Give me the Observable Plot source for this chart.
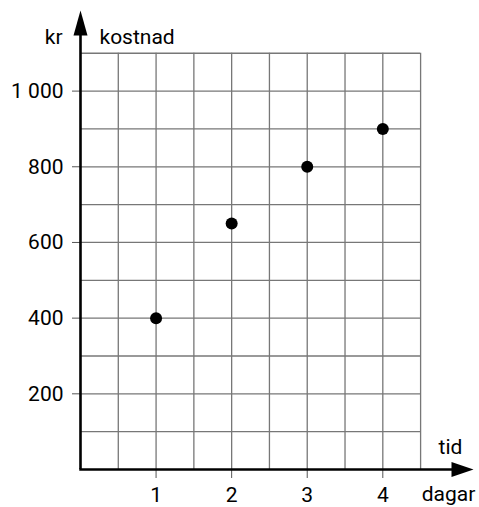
<!DOCTYPE html>
<html>
<head>
<meta charset="utf-8">
<script src="https://cdn.jsdelivr.net/npm/d3@7"></script>
<script src="https://cdn.jsdelivr.net/npm/@observablehq/plot@0.6"></script>
<style>
  html, body { margin: 0; padding: 0; background: #fff; }
</style>
</head>
<body>
<div id="chart"></div>
<script>
// Data
const days = [1, 2, 3, 4];
const costs = [400, 650, 800, 900];
const xTicks = [1, 2, 3, 4];
const yTicks = [200, 400, 600, 800, 1000];
const xGrid = [0.5, 1, 1.5, 2, 2.5, 3, 3.5, 4, 4.5];
const yGrid = [100, 200, 300, 400, 500, 600, 700, 800, 900, 1000, 1100];
const xLabel = "tid";
const xUnit = "dagar";
const yLabel = "kostnad";
const yUnit = "kr";

const xMax = 5.2, yMax = 1213;
const gridXMax = 4.5, gridYMax = 1100;

const points = days.map((d, i) => ({day: d, cost: costs[i]}));

const upArrow = {draw(ctx) { ctx.moveTo(0, 0); ctx.lineTo(7, 25); ctx.lineTo(-7, 25); ctx.closePath(); }};
const rightArrow = {draw(ctx) { ctx.moveTo(0, 0); ctx.lineTo(-22, -7.5); ctx.lineTo(-22, 7.5); ctx.closePath(); }};

const fmt = d => d >= 1000 ? d3.format(",")(d).replace(/,/g, " ") : String(d);

const chart = Plot.plot({
  width: 479,
  height: 507,
  marginLeft: 80,
  marginRight: 6,
  marginTop: 10,
  marginBottom: 38,
  style: {fontFamily: "Roboto, sans-serif", fontSize: "21px", fontWeight: 400, background: "#fff", color: "#000"},
  x: {domain: [0, xMax]},
  y: {domain: [0, yMax]},
  marks: [
    Plot.ruleX(xGrid, {y1: 0, y2: gridYMax, stroke: "#777", strokeWidth: 1.3}),
    Plot.ruleY(yGrid, {x1: 0, x2: gridXMax, stroke: "#777", strokeWidth: 1.3}),
    Plot.axisY(yTicks, {tickSize: 8, tickPadding: 9, tickFormat: fmt, label: null, stroke: "#555"}),
    Plot.axisX(xTicks, {tickSize: 9, tickPadding: 9, label: null, stroke: "#555"}),
    Plot.ruleX([0], {y1: 0, y2: yMax - 20, stroke: "#000", strokeWidth: 2.6}),
    Plot.ruleY([0], {x1: -0.01, x2: xMax - 0.1, stroke: "#000", strokeWidth: 2.6}),
    Plot.dot([0], {x: 0, y: yMax, symbol: upArrow, fill: "#000", stroke: null}),
    Plot.dot([0], {x: xMax, y: 0, symbol: rightArrow, fill: "#000", stroke: null}),
    Plot.dot(points, {x: "day", y: "cost", r: 6, fill: "#000", stroke: null}),
    Plot.text([yUnit], {x: 0, y: yMax, text: d => d, textAnchor: "end", dx: -18, dy: 27}),
    Plot.text([yLabel], {x: 0, y: yMax, text: d => d, textAnchor: "start", dx: 19, dy: 27}),
    Plot.text([xLabel], {x: xMax, y: 0, text: d => d, textAnchor: "middle", dx: -23, dy: -22}),
    Plot.text([xUnit], {x: xMax, y: 0, text: d => d, textAnchor: "middle", dx: -25, dy: 25})
  ]
});
document.getElementById("chart").appendChild(chart);
</script>
</body>
</html>
